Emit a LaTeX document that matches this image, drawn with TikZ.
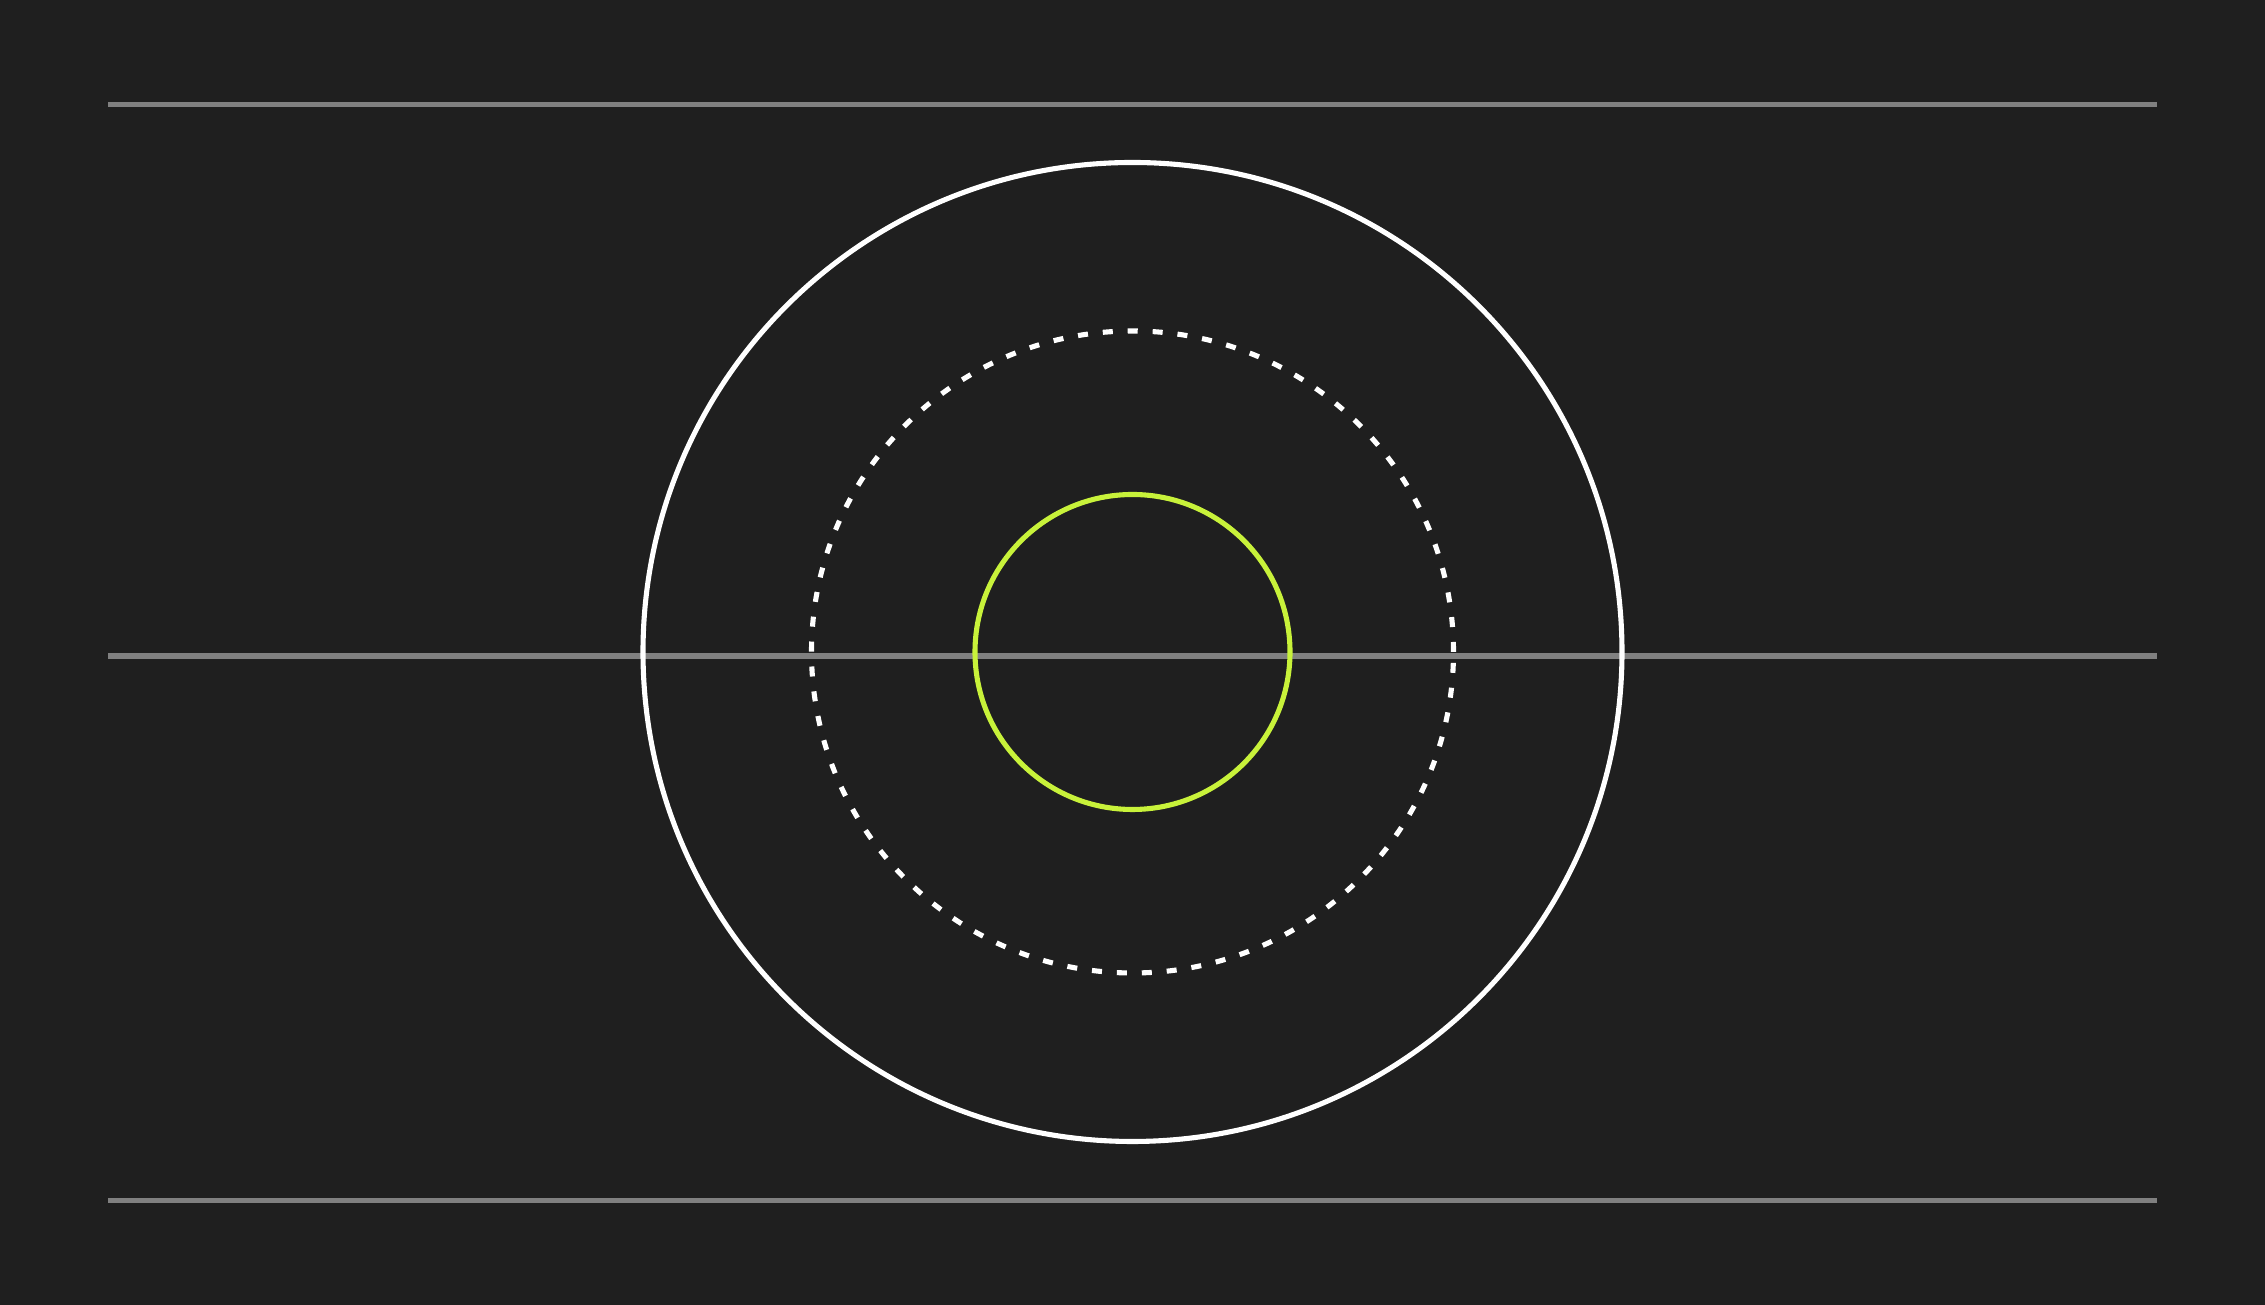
\documentclass[tikz,border=0pt]{standalone}
\usepackage{tikz}
\usetikzlibrary{positioning,backgrounds}
\definecolor{BgDark}{HTML}{1F1F1F}
\definecolor{RuleGray}{HTML}{808080}
\definecolor{LimeGreen}{HTML}{C8F23A}

\begin{document}
\begin{tikzpicture}[
  guide/.style={draw=RuleGray, line width=1.45pt},
  ring/.style={circle, draw=white, line width=1.45pt, inner sep=0pt},
  dashring/.style={circle, draw=white, line width=1.45pt, inner sep=0pt,
                   dash pattern=on 2.85pt off 4.25pt},
  core/.style={circle, draw=LimeGreen, line width=1.45pt, inner sep=0pt}]

  % ---- canvas ----
  \fill[BgDark] (0,0) rectangle (22.65,13.05);
  \useasboundingbox (0,0) rectangle (22.65,13.05);

  % ===== guide lines =====
  \coordinate (tl) at (1.08,12.005);
  \coordinate (tr) at (21.57,12.005);
  \coordinate (ml) at (1.08,6.49);
  \coordinate (mr) at (21.57,6.49);
  \coordinate (bl) at (1.08,1.045);
  \coordinate (br) at (21.57,1.045);
  \draw[guide] (tl) -- (tr);
  \draw[guide] (ml) -- (mr);
  \draw[guide] (bl) -- (br);

  % ===== rings =====
  \node[ring, minimum size=9.79cm]     (outer) at (11.325,6.53) {};
  \node[dashring, minimum size=6.42cm] (mid)   at (outer.center) {};
  \node[core, minimum size=3.15cm]     (inner) at (outer.center) {};

\end{tikzpicture}
\end{document}
